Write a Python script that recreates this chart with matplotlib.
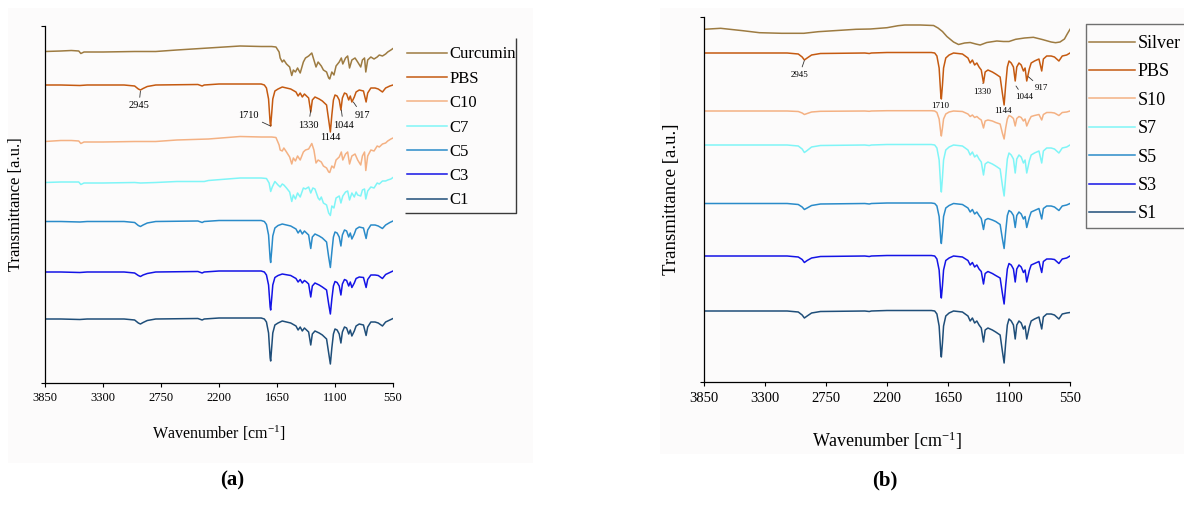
import matplotlib
matplotlib.use('Agg')
import matplotlib.pyplot as plt
from matplotlib.lines import Line2D
from matplotlib.patches import Rectangle

plt.rcParams['font.family'] = ['Liberation Serif', 'DejaVu Serif']
plt.rcParams['mathtext.fontset'] = 'custom'
plt.rcParams['mathtext.rm'] = 'Liberation Serif'
plt.rcParams['mathtext.it'] = 'Liberation Serif:italic'

W, H = 1184, 520

# wavenumber grids (cm-1) the traces were read on
wn_pbs = [3850, 3700, 3520, 3450, 3100, 3000, 2965, 2945, 2920, 2880,
          2800, 2400, 2360, 2340, 2200, 1800, 1770, 1750, 1730, 1715,
          1710, 1700, 1690, 1670, 1640, 1600, 1520, 1470, 1450, 1430,
          1410, 1390, 1370, 1350, 1330, 1315, 1290, 1250, 1220, 1180,
          1160, 1144, 1130, 1115, 1100, 1080, 1060, 1044, 1030, 1010,
          990, 970, 955, 940, 917, 900, 870, 830, 805, 790,
          760, 720, 690, 650, 620, 580, 550]
wn_cur = [3850, 3700, 3600, 3530, 3510, 3480, 3300, 3000, 2800, 2600,
          2300, 2000, 1800, 1700, 1660, 1630, 1620, 1600, 1585, 1560,
          1530, 1510, 1495, 1475, 1455, 1430, 1400, 1380, 1350, 1320,
          1300, 1280, 1260, 1230, 1210, 1180, 1160, 1150, 1130, 1110,
          1090, 1060, 1040, 1026, 1000, 980, 962, 940, 910, 885,
          856, 840, 820, 808, 790, 760, 730, 700, 680, 650,
          620, 600, 570, 550]
wn_c7 = [3850, 3700, 3530, 3510, 3480, 3300, 3000, 2945, 2800, 2600,
         2340, 2300, 2000, 1800, 1750, 1725, 1710, 1695, 1670, 1640,
         1620, 1600, 1585, 1560, 1530, 1510, 1495, 1475, 1455, 1430,
         1400, 1380, 1350, 1330, 1310, 1290, 1260, 1245, 1230, 1210,
         1180, 1160, 1144, 1130, 1110, 1090, 1060, 1044, 1026, 1000,
         980, 962, 940, 917, 900, 885, 856, 840, 820, 808,
         790, 760, 730, 700, 680, 650, 620, 600, 570, 550]
wn_silver = [3850, 3700, 3500, 3350, 3150, 2950, 2820, 2480, 2350, 2200,
             2100, 2040, 1900, 1780, 1740, 1700, 1660, 1600, 1555, 1500,
             1450, 1400, 1360, 1300, 1210, 1150, 1100, 1040, 960, 880,
             800, 720, 680, 640, 600, 575, 550]

# panel (a): stacked transmittance, a.u.
curcumin = [331.5, 332, 332.5, 332, 329.5, 331, 331, 331.5, 331.5, 333,
            335, 337, 336.5, 336.5, 336, 331, 325, 321, 323, 319,
            316, 307.5, 313, 311, 315, 310, 321, 325, 327, 330,
            323, 316, 321, 317, 313, 311, 305, 304, 311, 308,
            317, 321, 325, 319, 325, 327, 315, 323, 325, 321,
            316, 323, 325, 311, 323, 326, 324, 326, 328, 327,
            329, 331, 333, 334.5]
pbs_a = [298, 298, 297.5, 298, 298, 297, 294, 293, 294.5, 296.5,
         298, 298.5, 297, 298, 299, 299, 298, 295, 284, 260,
         257, 270, 284, 292, 294, 296, 294, 291, 287, 290,
         286, 289, 287, 285, 271, 283, 286, 284, 282, 278,
         263, 251, 268, 283, 288, 287, 283, 273, 285, 290,
         289, 283, 287, 281, 286, 291, 293, 292, 281, 290,
         295, 295, 294, 291, 295, 297, 298]
c10 = [241.5, 242.5, 242.5, 242, 239.5, 241, 241, 241.5, 241.5, 243,
       244, 246.5, 246, 246, 245.5, 238, 233, 232, 235, 231,
       226, 219, 225, 222, 227, 223, 231, 233, 234, 239.5,
       233, 220, 223, 221, 217, 215, 211, 210.5, 217, 215,
       223, 226, 231, 223, 229, 231, 219, 227, 229, 223,
       218, 227, 231, 212.5, 227, 233, 232, 237, 236, 239,
       240, 242, 244, 245]
c7 = [200.5, 201, 201, 198.5, 200, 200, 200.5, 200, 200.5, 201.5,
      201.5, 202.5, 205, 205, 204.5, 200, 191.5, 196, 201.5, 198,
      196, 199, 198, 195, 191, 181.5, 188, 184, 190, 186,
      195, 194, 196, 190, 195, 194, 185, 183, 186, 180,
      178, 170, 167.5, 177, 175, 185, 187, 180, 187, 191,
      192, 183, 190, 186, 191, 188, 187, 193, 194, 184,
      192, 196, 195, 200, 199, 202, 202, 203, 204, 205.5]
c5 = [161.5, 161.5, 161, 161.5, 161.5, 160.5, 157.5, 156.5, 158, 160,
      161.5, 162, 160.5, 161.5, 162.5, 162.5, 161.5, 158.5, 148, 124,
      120.5, 133, 147, 155, 157.5, 159, 157, 154, 150, 153,
      149, 152, 150, 148, 134.5, 146, 149, 147, 145, 141,
      126, 115.5, 131, 146, 151, 150, 146, 137, 148, 153,
      152, 146, 150, 144, 149, 154, 156, 155, 144.5, 153,
      158, 158, 157, 154.5, 158, 160.5, 162]
c3 = [111, 111, 110.5, 111, 111, 110, 107.5, 106.5, 108, 109.5,
      111, 111.5, 110, 111, 112, 112, 111, 108, 98, 76,
      73, 85, 98, 105.5, 107.5, 109, 107.5, 104.5, 101, 103.5,
      100, 102.5, 101, 99, 86, 97, 100, 98, 96, 93,
      79, 69, 84, 97, 101.5, 100.5, 97, 88, 99, 103.5,
      102.5, 97, 101, 95.5, 100, 104.5, 106, 105.5, 95.5, 103.5,
      108, 108, 107.5, 104.5, 108.5, 110.5, 112]
c1 = [64, 64, 63.5, 64, 64, 63, 60, 59, 60.5, 62.5,
      64, 64.5, 63, 64, 65, 65, 64, 61, 50, 25,
      22, 36, 50, 58, 60, 62, 60, 57, 53, 56,
      52, 55, 53, 51, 38, 49, 52, 50, 48, 44,
      30, 19, 35, 49, 54, 53, 49, 40, 51, 56,
      55, 49, 53, 47, 52, 57, 59, 58, 47.5, 56,
      61, 61, 60, 57, 61, 63, 64.5]

# panel (b)
silver = [352.2, 353.2, 350.8, 348.8, 348.2, 348.2, 349.8, 352.2, 352.5, 353.8,
          355.8, 356.5, 356.5, 356, 353.5, 350, 345, 339.5, 337, 338.5,
          339, 337.5, 336.5, 339, 340.5, 340, 340, 342.2, 343.5, 344.2,
          342, 339.5, 338.8, 339.5, 342.5, 347.5, 352.2]
pbs_b = [328.5, 328.5, 328.5, 328.5, 328.5, 327.5, 324.5, 321.5, 323.5, 326.5,
         328, 328.5, 328, 328.5, 329, 329, 328.5, 325.5, 313.5, 286.5,
         282.5, 296.5, 313.5, 323.5, 326.5, 328.5, 327.5, 323.5, 318.5, 321.5,
         316.5, 318.5, 314.5, 311.5, 298.5, 309.5, 311.5, 309.5, 307.5, 304.5,
         288.5, 276.5, 296.5, 314.5, 320.5, 318.5, 314.5, 300.5, 314.5, 318.5,
         316.5, 310.5, 313.5, 300.5, 312.5, 318.5, 320.5, 322.5, 310.5, 322.5,
         325.5, 325.5, 324.5, 320.5, 325.5, 326.5, 328.5]
s10 = [270.5, 270.5, 270.5, 270.5, 270.5, 270, 268.5, 267, 268, 269.5,
       270.2, 270.5, 270.2, 270.5, 270.8, 270.8, 270.5, 269, 262.5, 248.5,
       245.5, 253.5, 262.5, 267.5, 269.5, 270.5, 270, 267.5, 265, 266.5,
       264, 265, 263, 261.5, 253.5, 260.5, 261.5, 260.5, 259, 257.5,
       248.5, 242.5, 253.5, 262.5, 266, 265, 263, 255.5, 263, 265,
       264, 260.5, 262.5, 255.5, 261.5, 265, 266, 267, 261.5, 267,
       269, 269, 268.5, 266, 269, 269.5, 270.5]
s7 = [236.5, 236.5, 236.5, 236.5, 236.5, 235.5, 232.5, 229, 231, 234.5,
      236, 236.5, 236, 236.5, 237, 237, 236.5, 233.5, 221.5, 194,
      189.5, 204, 221.5, 231.5, 234.5, 236.5, 235.5, 231.5, 226.5, 229.5,
      224.5, 226.5, 222.5, 219.5, 206.5, 217.5, 219.5, 217.5, 215.5, 212.5,
      196.5, 185.5, 204.5, 222.5, 228.5, 226.5, 222.5, 208.5, 222.5, 226.5,
      224.5, 218.5, 221.5, 208.5, 220.5, 226.5, 228.5, 230.5, 218.5, 230.5,
      233.5, 233.5, 232.5, 228.5, 233.5, 234.5, 236.5]
s5 = [178, 178, 178, 178, 178, 177, 174.5, 172, 173.5, 176,
      177.5, 178, 177.5, 178, 178.5, 178.5, 178, 175.5, 165, 141.5,
      138, 150, 165, 173.5, 176, 178, 177, 173.5, 169.5, 172,
      167.5, 169.5, 166, 163, 152, 161.5, 163, 161.5, 160, 157,
      143, 133, 150, 166, 171, 169.5, 166, 154, 166, 169.5,
      167.5, 162.5, 165, 154, 164, 169.5, 171, 173, 162.5, 173,
      175.5, 175.5, 174.5, 171, 175.5, 176.5, 178]
s3 = [125.5, 125.5, 125.5, 125.5, 125.5, 124.5, 122, 119, 121, 123.5,
      125, 125.5, 125, 125.5, 126, 126, 125.5, 122.5, 111.5, 87,
      83.5, 96, 111.5, 121, 123.5, 125.5, 124.5, 121, 116.5, 119,
      114.5, 116.5, 112.5, 110, 97.5, 108, 110, 108, 106, 103.5,
      88.5, 77.5, 96, 112.5, 118, 116.5, 112.5, 99.5, 112.5, 116.5,
      114.5, 109, 111.5, 99.5, 111, 116.5, 118, 120, 109, 120,
      122.5, 122.5, 122, 118, 122.5, 123.5, 125.5]
s1 = [70.5, 70.5, 70.5, 70.5, 70.5, 69.5, 66.5, 63.5, 65.5, 68.5,
      70, 70.5, 70, 70.5, 71, 71, 70.5, 67.5, 55.5, 28.5,
      24.5, 38.5, 55.5, 65.5, 68.5, 70.5, 69.5, 65.5, 60.5, 63.5,
      58.5, 60.5, 56.5, 53.5, 39.5, 51.5, 53.5, 51.5, 49.5, 46.5,
      30.5, 18.5, 38.5, 56.5, 62.5, 60.5, 56.5, 42.5, 56.5, 60.5,
      58.5, 52.5, 55.5, 42.5, 54.5, 60.5, 62.5, 64.5, 52.5, 64.5,
      67.5, 67.5, 66.5, 62.5, 67.5, 68.5, 69]

labels_a = ['Curcumin', 'PBS', 'C10', 'C7', 'C5', 'C3', 'C1']
labels_b = ['Silver', 'PBS', 'S10', 'S7', 'S5', 'S3', 'S1']
colors = ['#9D7B41', '#C55A11', '#F4B183', '#7FF5F7', '#2A8BC9', '#1414E6', '#1F4E79']
xticks = [3850, 3300, 2750, 2200, 1650, 1100, 550]


def fpt(x, row):
  # pixel position -> figure fraction
  return x / W, 1 - row / H


def fig_line(fig, xs, rows, color, lw=1.0):
  pts = [fpt(x, r) for x, r in zip(xs, rows)]
  fig.add_artist(Line2D([p[0] for p in pts], [p[1] for p in pts], transform=fig.transFigure,
                        color=color, lw=lw, solid_capstyle='butt'))


def style_axes(ax, top, tick_size, pad):
  ax.set_xlim(3850, 550)
  ax.set_ylim(0, top)
  ax.set_xticks(xticks)
  ax.set_xticklabels([str(t) for t in xticks])
  ax.set_yticks([0, top])
  ax.set_yticklabels([])
  for s in ['top', 'right']:
    ax.spines[s].set_visible(False)
  for s in ['left', 'bottom']:
    ax.spines[s].set_linewidth(0.9)
  ax.tick_params(direction='out', length=3, width=0.8, labelsize=tick_size, pad=pad)
  ax.set_facecolor('none')


fig = plt.figure(figsize=(W / 100, H / 100), dpi=100)
fig.patch.set_facecolor('white')

# very faint panel backgrounds
for x0, r0, x1, r1 in [(8, 8, 533, 463), (660, 8, 1184, 454)]:
  fig.add_artist(Rectangle(fpt(x0, r1), (x1 - x0) / W, (r1 - r0) / H, transform=fig.transFigure,
                           facecolor='#fcfbfb', edgecolor='none', zorder=-5))

# ---------------- panel (a)
axa = fig.add_axes([45 / W, (520 - 383) / H, 348 / W, 357 / H])
series_a = [(wn_cur, curcumin), (wn_pbs, pbs_a), (wn_cur, c10), (wn_c7, c7),
            (wn_pbs, c5), (wn_pbs, c3), (wn_pbs, c1)]
for (x, y), lab, col in zip(series_a, labels_a, colors):
  axa.plot(x, y, color=col, lw=1.1, label=lab)
style_axes(axa, 357, 9, 3.6)
axa.set_xlabel('Wavenumber [cm$^{-1}$]', fontsize=11.5)
axa.xaxis.set_label_coords(0.5, -41 / 357)
axa.set_ylabel('Transmittance [a.u.]', fontsize=12)
axa.yaxis.set_label_coords(-21 / 348, 0.5)

ann = dict(arrowstyle='-', lw=0.6, color='#333333', shrinkA=1, shrinkB=0)
axa.annotate('2945', xy=(2945, 292), xytext=(2960, 277), ha='center', va='center',
             fontsize=7.5, arrowprops=ann)
axa.annotate('1710', xy=(1712, 257), xytext=(1925, 267.5), ha='center', va='center',
             fontsize=7.5, arrowprops=ann)
axa.annotate('1330', xy=(1330, 273), xytext=(1350, 258), ha='center', va='center',
             fontsize=7.5, arrowprops=ann)
axa.text(1141, 245.5, '1144', ha='center', va='center', fontsize=7.5)
axa.annotate('1044', xy=(1040, 273), xytext=(1021, 258), ha='center', va='center',
             fontsize=7.5, arrowprops=ann)
axa.annotate('917', xy=(926, 281), xytext=(841, 268), ha='center', va='center',
             fontsize=7.5, arrowprops=ann)

axa.legend(loc='upper left', bbox_to_anchor=fpt(406.5, 46.5), bbox_transform=fig.transFigure,
           frameon=False, fontsize=12, handlelength=2.4, handletextpad=0.2,
           labelspacing=0.5, borderpad=0, borderaxespad=0)
fig_line(fig, [405, 516, 516], [213, 213, 38], '#3a3a3a')

# ---------------- panel (b)
axb = fig.add_axes([704 / W, (520 - 381.5) / H, 366 / W, 364.5 / H])
series_b = [(wn_silver, silver), (wn_pbs, pbs_b), (wn_pbs, s10), (wn_pbs, s7),
            (wn_pbs, s5), (wn_pbs, s3), (wn_pbs, s1)]
for (x, y), lab, col in zip(series_b, labels_b, colors):
  axb.plot(x, y, color=col, lw=1.1, label=lab)
style_axes(axb, 364.5, 10.5, 4.3)
axb.set_xlabel('Wavenumber [cm$^{-1}$]', fontsize=13)
axb.xaxis.set_label_coords(0.5, -48 / 364.5)
axb.set_ylabel('Transmittance [a.u.]', fontsize=13.5)
axb.yaxis.set_label_coords(-24 / 366, 0.5)

axb.annotate('2945', xy=(2945, 321), xytext=(2990, 306.5), ha='center', va='center',
             fontsize=6.5, arrowprops=ann)
axb.text(1722, 275.5, '1710', ha='center', va='center', fontsize=6.5)
axb.annotate('1330', xy=(1336, 298), xytext=(1346, 289.8), ha='center', va='center',
             fontsize=6.5, arrowprops=ann)
axb.text(1152, 270.8, '1144', ha='center', va='center', fontsize=6.5)
axb.annotate('1044', xy=(1037, 295.5), xytext=(967, 284.2), ha='center', va='center',
             fontsize=6.5, arrowprops=ann)
axb.annotate('917', xy=(926, 304.8), xytext=(805, 293.2), ha='center', va='center',
             fontsize=6.5, arrowprops=ann)

axb.legend(loc='upper left', bbox_to_anchor=fpt(1089, 35), bbox_transform=fig.transFigure,
           frameon=False, fontsize=13, handlelength=2.55, handletextpad=0.14,
           labelspacing=0.63, borderpad=0, borderaxespad=0)
fig_line(fig, [1190, 1086, 1086, 1190], [24, 24, 228, 228], '#707070')

fig.text(232 / W, 1 - 480 / H, '(a)', ha='center', va='center', fontsize=15, fontweight='bold')
fig.text(885 / W, 1 - 480 / H, '(b)', ha='center', va='center', fontsize=15, fontweight='bold')

fig.savefig('out.png', dpi=100)
